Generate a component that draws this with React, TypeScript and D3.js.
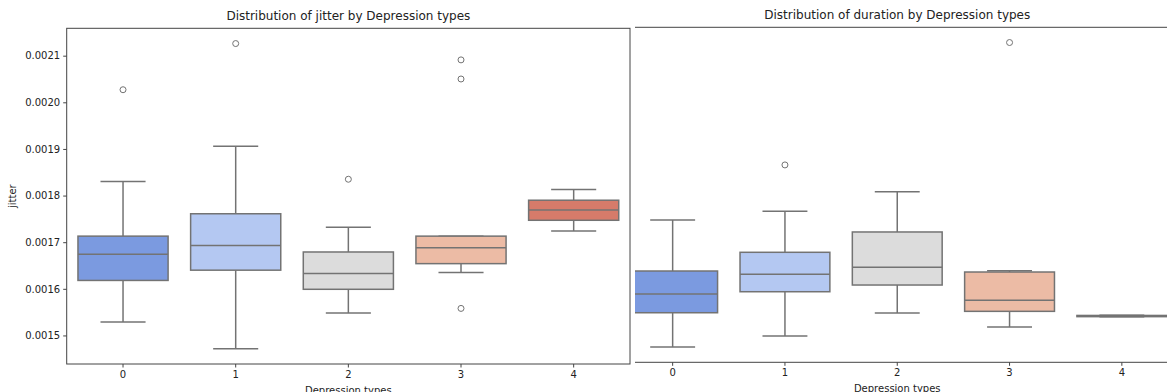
import React, { useRef, useEffect } from "react";
import * as d3 from "d3";

// categories shared by both panels
const depressionTypes = ["0", "1", "2", "3", "4"];
const boxColors = ["#7b9ae0", "#b4c8f2", "#dcdcdc", "#ecbba5", "#d67b6a"];

// jitter stats per type: [lowWhisker, q1, median, q3, highWhisker]
const jitterStats = [
  [0.001529, 0.001618, 0.001674, 0.001713, 0.00183],
  [0.0014715, 0.00164, 0.001693, 0.001761, 0.001906],
  [0.001548, 0.001599, 0.001633, 0.001679, 0.001732],
  [0.001635, 0.001654, 0.001688, 0.001713, 0.001713],
  [0.001724, 0.001747, 0.001769, 0.00179, 0.001813],
];
const jitterOutliers = [
  [0.002027],
  [0.002126],
  [0.001835],
  [0.002091, 0.00205, 0.001558],
  [],
];

// duration stats per type (seconds)
const durationStats = [
  [5.3, 8.73, 10.6, 12.9, 18.0],
  [6.4, 10.83, 12.57, 14.77, 18.87],
  [8.7, 11.5, 13.27, 16.8, 20.83],
  [7.3, 8.87, 9.97, 12.8, 12.93],
  [8.32, 8.34, 8.4, 8.46, 8.48],
];
const durationOutliers = [[], [23.5], [], [35.73], []];

const W = 1167;
const H = 392;
const font = "DejaVu Sans, sans-serif";
const lineColor = "#737373";

type Panel = {
  left: number;
  right: number;
  top: number;
  bottom: number;
  stats: number[][];
  outliers: number[][];
  title: string;
  yLabel: string | null;
  yTicks: number[];
  tickFmt: (d: number) => string;
};

function drawPanel(g: d3.Selection<SVGGElement, unknown, null, undefined>, p: Panel) {
  const all = p.stats.flat().concat(p.outliers.flat());
  const [mn, mx] = d3.extent(all) as [number, number];
  const pad = (mx - mn) * 0.05;

  const x = d3.scaleBand().domain(depressionTypes).range([p.left, p.right]).paddingInner(0).paddingOuter(0);
  const y = d3.scaleLinear().domain([mn - pad, mx + pad]).range([p.bottom, p.top]);
  const bw = x.bandwidth() * 0.8;

  // white background
  g.append("rect")
    .attr("x", p.left).attr("y", p.top)
    .attr("width", p.right - p.left).attr("height", p.bottom - p.top)
    .attr("fill", "white");

  depressionTypes.forEach((t, i) => {
    const [lo, q1, med, q3, hi] = p.stats[i];
    const cx = (x(t) as number) + x.bandwidth() / 2;
    const box = g.append("g");
    // whiskers
    box.append("line").attr("x1", cx).attr("x2", cx).attr("y1", y(q3)).attr("y2", y(hi))
      .attr("stroke", lineColor).attr("stroke-width", 1.5);
    box.append("line").attr("x1", cx).attr("x2", cx).attr("y1", y(q1)).attr("y2", y(lo))
      .attr("stroke", lineColor).attr("stroke-width", 1.5);
    box.append("line").attr("x1", cx - bw / 4).attr("x2", cx + bw / 4).attr("y1", y(hi)).attr("y2", y(hi))
      .attr("stroke", lineColor).attr("stroke-width", 1.5);
    box.append("line").attr("x1", cx - bw / 4).attr("x2", cx + bw / 4).attr("y1", y(lo)).attr("y2", y(lo))
      .attr("stroke", lineColor).attr("stroke-width", 1.5);
    // box
    box.append("rect")
      .attr("x", cx - bw / 2).attr("y", y(q3))
      .attr("width", bw).attr("height", Math.max(0, y(q1) - y(q3)))
      .attr("fill", boxColors[i])
      .attr("stroke", lineColor).attr("stroke-width", 1.5);
    box.append("line").attr("x1", cx - bw / 2).attr("x2", cx + bw / 2).attr("y1", y(med)).attr("y2", y(med))
      .attr("stroke", lineColor).attr("stroke-width", 1.5);
    // outliers
    box.selectAll("circle.out")
      .data(p.outliers[i])
      .enter()
      .append("circle")
      .attr("cx", cx).attr("cy", d => y(d)).attr("r", 3)
      .attr("fill", "none").attr("stroke", lineColor).attr("stroke-width", 1);
  });

  // frame
  g.append("rect")
    .attr("x", p.left).attr("y", p.top)
    .attr("width", p.right - p.left).attr("height", p.bottom - p.top)
    .attr("fill", "none").attr("stroke", "#444").attr("stroke-width", 1);

  // x axis
  const xa = g.append("g")
    .attr("transform", `translate(0,${p.bottom})`)
    .call(d3.axisBottom(x).tickSize(3.5).tickPadding(3));
  xa.select(".domain").remove();
  xa.selectAll("line").attr("stroke", "#444");
  xa.selectAll("text").style("font-family", font).style("font-size", "10px").attr("fill", "#222");

  // y axis
  if (p.yTicks.length) {
    const ya = g.append("g")
      .attr("transform", `translate(${p.left},0)`)
      .call(d3.axisLeft(y).tickValues(p.yTicks).tickFormat(d => p.tickFmt(d as number)).tickSize(3.5).tickPadding(3));
    ya.select(".domain").remove();
    ya.selectAll("line").attr("stroke", "#444");
    ya.selectAll("text").style("font-family", font).style("font-size", "10px").attr("fill", "#222");
  }

  // title
  g.append("text")
    .attr("x", (p.left + p.right) / 2).attr("y", p.top - 8)
    .attr("text-anchor", "middle")
    .style("font-family", font).style("font-size", "12px").attr("fill", "#222")
    .text(p.title);

  // x label
  g.append("text")
    .attr("x", (p.left + p.right) / 2).attr("y", p.bottom + 30)
    .attr("text-anchor", "middle")
    .style("font-family", font).style("font-size", "10px").attr("fill", "#222")
    .text("Depression types");

  if (p.yLabel) {
    g.append("text")
      .attr("transform", `translate(16,${(p.top + p.bottom) / 2}) rotate(-90)`)
      .attr("text-anchor", "middle")
      .style("font-family", font).style("font-size", "10px").attr("fill", "#222")
      .text(p.yLabel);
  }
}

const App = () => {
  const ref = useRef<SVGSVGElement>(null);

  useEffect(() => {
    const svg = d3.select(ref.current);
    svg.selectAll("*").remove();

    svg.append("rect").attr("width", W).attr("height", H).attr("fill", "white");

    // right panel first, partially hidden under the left one
    const right = svg.append("g");
    drawPanel(right, {
      left: 616.5, right: 1178, top: 27.3, bottom: 362.3,
      stats: durationStats, outliers: durationOutliers,
      title: "Distribution of duration by Depression types",
      yLabel: null, yTicks: [], tickFmt: d => String(d),
    });

    // cover the overlap
    svg.append("rect").attr("x", 0).attr("y", 0).attr("width", 635).attr("height", 366).attr("fill", "white");

    const left = svg.append("g");
    drawPanel(left, {
      left: 66.7, right: 630, top: 28.3, bottom: 364,
      stats: jitterStats, outliers: jitterOutliers,
      title: "Distribution of jitter by Depression types",
      yLabel: "jitter",
      yTicks: [0.0015, 0.0016, 0.0017, 0.0018, 0.0019, 0.002, 0.0021],
      tickFmt: d => d3.format(".4f")(d),
    });
  }, []);

  return (
    <div style={{ position: "absolute", left: 0, top: 0 }}>
      <svg ref={ref} width={W} height={H}></svg>
    </div>
  );
};

export default App;
